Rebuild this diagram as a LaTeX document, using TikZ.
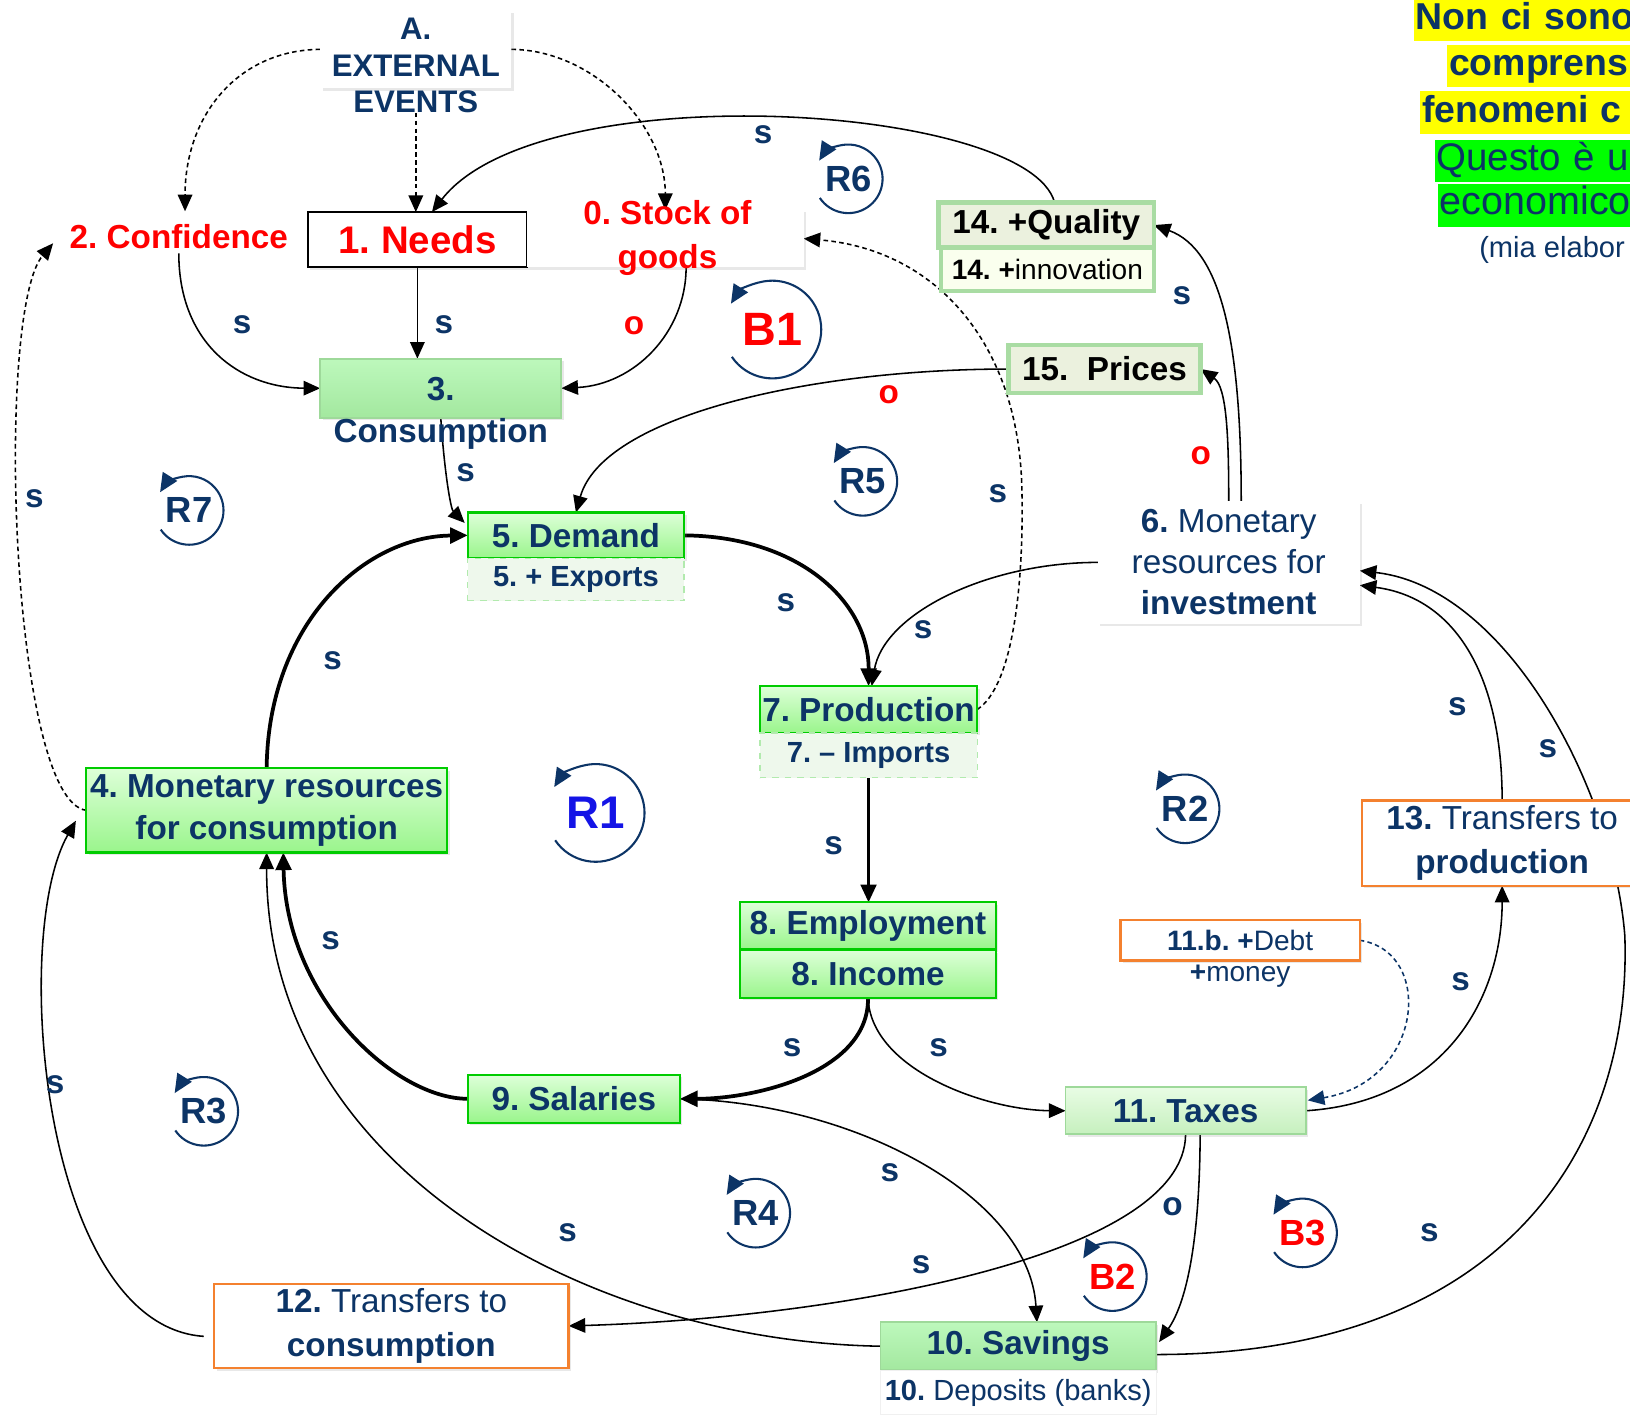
\documentclass[tikz,border=0pt]{standalone}
\usepackage{fontspec}
\setmainfont{Liberation Sans}
\usetikzlibrary{arrows.meta,shadows}
\pgfdeclarelayer{wires}
\pgfsetlayers{wires,main}
\definecolor{navy}{RGB}{12,52,102}
\definecolor{cldred}{RGB}{255,0,0}
\definecolor{loopblue}{RGB}{20,20,230}
\definecolor{brightgreen}{RGB}{0,204,0}
\definecolor{gtop}{HTML}{DDFFD8}
\definecolor{gbot}{HTML}{9AF58C}
\definecolor{ptop}{HTML}{BDF8BC}
\definecolor{pbot}{HTML}{A3E89F}
\definecolor{paleedge}{HTML}{9ED99A}
\definecolor{ttop}{HTML}{E8FCE4}
\definecolor{tbot}{HTML}{C6F0BE}
\definecolor{subfill}{HTML}{EEF8EC}
\definecolor{subedge}{HTML}{B2EAAE}
\definecolor{hlyellow}{RGB}{255,255,0}
\definecolor{hlgreen}{RGB}{0,255,0}
\definecolor{orangeline}{RGB}{244,129,47}
\definecolor{qualfill}{HTML}{EBF1DE}
\definecolor{qualedge}{HTML}{A9DCA3}
\definecolor{innofill}{HTML}{FAFFEE}
\newcommand{\fsz}[2]{\fontsize{#1}{#2}\selectfont}

\begin{document}
\frenchspacing
\begin{tikzpicture}[x=0.5pt,y=-0.5pt,
  every node/.style={inner sep=0pt, outer sep=0pt},
  boxshadow/.style={drop shadow={opacity=0.18, shadow xshift=1.2pt, shadow yshift=-1.2pt}},
  greenbox/.style={draw=brightgreen, line width=1.1pt, top color=gtop, bottom color=gbot, text=navy, font=\bfseries\fsz{16}{20.5}, boxshadow},
  palebox/.style={draw=paleedge, line width=0.9pt, top color=ptop, bottom color=pbot, text=navy, font=\bfseries\fsz{16}{20}, boxshadow},
  taxbox/.style={draw=paleedge, line width=0.9pt, top color=ttop, bottom color=tbot, text=navy, font=\bfseries\fsz{16}{20}, boxshadow},
  subbox/.style={draw=subedge, line width=0.6pt, dashed, fill=subfill, text=navy, font=\bfseries\fsz{14}{17}},
  whitebox/.style={fill=white, boxshadow},
  orangebox/.style={draw=orangeline, line width=1.1pt, fill=white, text=navy, font=\fsz{16}{21}, boxshadow},
  qualbox/.style={draw=qualedge, line width=2.2pt, fill=qualfill, text=black, font=\bfseries\fsz{16}{20}},
  redtext/.style={text=cldred, font=\bfseries\fsz{16}{21}, inner sep=2pt},
  navytext/.style={text=navy, font=\bfseries\fsz{16}{20.5}, align=center},
  slab/.style={text=navy, font=\bfseries\fsz{16}{16}},
  olab/.style={text=cldred, font=\bfseries\fsz{16}{16}},
  looplbl/.style={text=navy, font=\bfseries\fsz{17.5}{18}},
  loopc/.style={draw=navy, line width=1pt, -{Triangle[length=9pt,width=8pt]}},
  link/.style={draw=black, line width=0.75pt, -{Triangle[length=8pt,width=7pt]}},
  heavy/.style={draw=black, line width=1.8pt, -{Triangle[length=8.5pt,width=7.5pt]}},
  dlink/.style={link, dash pattern=on 2.2pt off 1.6pt},
  hl/.style={anchor=west, inner xsep=1pt, inner ysep=0pt, minimum height=20.5pt,
             text height=14pt, text depth=5pt, align=left, text=navy},
]
\useasboundingbox (0,0) rectangle (1568,1361);
\begin{scope}
\clip (0,0) rectangle (1568,1361);

% ---------- boxes ----------
\node[whitebox, minimum width=92pt, minimum height=37.5pt] (extbox) at (400,47.5) {};
\node[navytext, font=\bfseries\fsz{15}{17.5}] (ext) at (400,63) {A.\\EXTERNAL\\EVENTS};
\node[redtext] (confidence) at (172,228) {2. Confidence};
\node[draw=black, line width=1.1pt, fill=white, boxshadow, minimum width=105.5pt, minimum height=26.5pt,
      text=cldred, font=\bfseries\fsz{18.5}{20}] (needs) at (401.5,230.5) {1. Needs};
\node[whitebox, minimum width=133pt, minimum height=27.5pt] (stock) at (640,229.5) {};
\node[redtext, align=center] (stocktext) at (642,229) {0. Stock of\\goods};
\node[palebox, minimum width=116pt, minimum height=28.5pt] (consbox) at (424,373.5) {};
\node[navytext] (constext) at (424,397.5) {3.\\Consumption};

\node[greenbox, minimum width=104pt, minimum height=22pt] (demand) at (554,515) {5. Demand};
\node[subbox, minimum width=104pt, minimum height=20.5pt] (exports) at (554,557.5) {5. + Exports};
\node[greenbox, minimum width=104.5pt, minimum height=22.5pt] (production) at (835.5,682.5) {7. Production};
\node[subbox, minimum width=104.5pt, minimum height=21.5pt] (imports) at (835.5,726.5) {7. – Imports};
\node[greenbox, minimum width=123pt, minimum height=22.5pt] (employment) at (835,890.5) {8. Employment};
\node[greenbox, minimum width=123pt, minimum height=23pt] (income) at (835,937) {8. Income};
\node[greenbox, minimum width=102pt, minimum height=23pt] (salaries) at (552,1057) {9. Salaries};
\node[palebox, minimum width=132.5pt, minimum height=23pt] (savings) at (979.5,1295) {10. Savings};
\node[draw=gray!12, fill=white, minimum width=132.5pt, minimum height=21.5pt, text=navy, font=\fsz{14}{17}]
      (deposits) at (979.5,1339.5) {\textbf{10.} Deposits (banks)};
\node[taxbox, minimum width=115.5pt, minimum height=22.5pt] (taxes) at (1140.5,1068.5) {11. Taxes};
\node[orangebox, minimum width=170.5pt, minimum height=40.5pt, align=center] (trcons) at (376.5,1275.5)
      {\textbf{12.} Transfers to\\\textbf{consumption}};
\node[orangebox, minimum width=135pt, minimum height=41pt, align=center] (trprod) at (1445,811)
      {\textbf{13.} Transfers to\\\textbf{production}};
\node[orangebox, minimum width=115pt, minimum height=19.5pt, font=\fsz{13.5}{16}] (debt) at (1193,904.5) {\textbf{11.b. +}Debt};
\node[text=navy, font=\fsz{13.5}{16}] (money) at (1193,939) {\textbf{+}money};
\node[qualbox, minimum width=103.5pt, minimum height=21.5pt] (quality) at (1006.5,216.5) {14. +Quality};
\node[qualbox, fill=innofill, minimum width=102.5pt, minimum height=21pt, font=\fsz{13.5}{16}]
      (innovation) at (1007.5,259) {\textbf{14. +}innovation};
\node[qualbox, minimum width=92.5pt, minimum height=23pt] (prices) at (1062.5,355) {15.\ \ Prices};
\node[whitebox, minimum width=126pt, minimum height=59pt, text=navy, font=\fsz{16}{19.75}, align=center]
      (invest) at (1182,541) {\textbf{6.} Monetary\\resources for\\\textbf{investment}};
\node[greenbox, minimum width=173.5pt, minimum height=40.5pt, align=center] (monc) at (256.5,779.5)
      {4. Monetary resources\\for consumption};

% ---------- side note ----------
\node[hl, fill=hlyellow, text width=113pt, font=\bfseries\fsz{18}{20}] (note1) at (1360,19) {Non ci sono};
\node[hl, fill=hlyellow, text width=97pt, font=\bfseries\fsz{18}{20}] (note2) at (1392,63.5) {comprens};
\node[hl, fill=hlyellow, text width=110pt, font=\bfseries\fsz{18}{20}] (note3) at (1366,108.5) {fenomeni c};
\node[hl, fill=hlgreen, text width=103pt, font=\fsz{18.5}{20}] (note4) at (1380,155) {Questo è u};
\node[hl, fill=hlgreen, text width=101.5pt, font=\fsz{19}{20}] (note5) at (1383,197.5) {economico};
\node[anchor=west, text=navy, font=\fsz{14}{16}] (note6) at (1423,240) {(mia elabor};

% ---------- loop markers ----------
\node[looplbl] (r6) at (816,172) {R6};
\draw[loopc] (r6.center) ++(146:33) arc[start angle=146, end angle=-148, radius=33];
\node[looplbl, text=cldred, font=\bfseries\fsz{22.5}{23}] (b1) at (743,317) {B1};
\draw[loopc] (b1.center) ++(146:47) arc[start angle=146, end angle=-148, radius=47];
\node[looplbl] (r5) at (830,463) {R5};
\draw[loopc] (r5.center) ++(146:33) arc[start angle=146, end angle=-148, radius=33];
\node[looplbl] (r7) at (182,491) {R7};
\draw[loopc] (r7.center) ++(146:33) arc[start angle=146, end angle=-148, radius=33];
\node[looplbl, text=loopblue, font=\bfseries\fsz{22}{23}] (r1) at (573,782) {R1};
\draw[loopc] (r1.center) ++(146:47) arc[start angle=146, end angle=-148, radius=47];
\node[looplbl] (r2) at (1140,778) {R2};
\draw[loopc] (r2.center) ++(146:33) arc[start angle=146, end angle=-148, radius=33];
\node[looplbl] (r3) at (196,1069) {R3};
\draw[loopc] (r3.center) ++(146:33) arc[start angle=146, end angle=-148, radius=33];
\node[looplbl] (r4) at (727,1167) {R4};
\draw[loopc] (r4.center) ++(146:33) arc[start angle=146, end angle=-148, radius=33];
\node[looplbl, text=cldred] (b2) at (1070,1228) {B2};
\draw[loopc] (b2.center) ++(146:33) arc[start angle=146, end angle=-148, radius=33];
\node[looplbl, text=cldred] (b3) at (1253,1186) {B3};
\draw[loopc] (b3.center) ++(146:33) arc[start angle=146, end angle=-148, radius=33];

% ---------- polarity signs ----------
\node[slab] (sA) at (734,130) {s};
\node[slab] (sB) at (233,312) {s};
\node[slab] (sC) at (427,312) {s};
\node[olab] (oA) at (610,313) {o};
\node[slab] (sD) at (448,455) {s};
\node[olab] (oB) at (855,380) {o};
\node[slab] (sE) at (756,580) {s};
\node[slab] (sF) at (888,606) {s};
\node[slab] (sG) at (960,475) {s};
\node[slab] (sH) at (1137,284) {s};
\node[olab] (oC) at (1155,438) {o};
\node[slab] (sI) at (802,814) {s};
\node[slab] (sJ) at (762,1008) {s};
\node[slab] (sK) at (903,1008) {s};
\node[slab] (sL) at (318,905) {s};
\node[slab] (sM) at (320,636) {s};
\node[slab] (sN) at (546,1186) {s};
\node[slab] (sO) at (856,1128) {s};
\node[slab] (sP) at (886,1217) {s};
\node[slab] (oD) at (1128,1161) {o};
\node[slab] (sQ) at (1405,944) {s};
\node[slab] (sR) at (1402,680) {s};
\node[slab] (sS) at (1489,720) {s};
\node[slab] (sT) at (1375,1186) {s};
\node[slab] (sU) at (33,480) {s};
\node[slab] (sV) at (53,1043) {s};
\end{scope}

% ---------- causal links ----------
\begin{pgfonlayer}{wires}
\draw[dlink] (extbox.west) .. controls (230,48) and (178,110) .. ([shift={(6,-9)}]confidence.north);
\draw[dlink] (extbox.east) .. controls (570,48) and (640,120) .. (stock.north);
\draw[dlink] (ext.south) -- (ext.south |- needs.north);
\draw[link] ([shift={(8,0)}]quality.north) .. controls (990,100) and (520,70) .. ([shift={(14,0)}]needs.north);
\draw[link] (confidence.south) .. controls (172,330) and (230,373) .. (consbox.west);
\draw[link] (needs.south) -- (needs.south |- consbox.north);
\draw[link] ([shift={(20,0)}]stock.south) .. controls (660,320) and (610,370) .. (consbox.east);
\draw[link] (consbox.south) .. controls (428,460) and (434,490) .. ([shift={(-3,10)}]demand.north west);
\draw[link] (prices.west) .. controls (780,355) and (580,400) .. (demand.north);
\draw[heavy] (demand.east) .. controls (770,516) and (836,580) .. (production.north);
\draw[link] (invest.west) .. controls (950,541) and (850,590) .. ([shift={(3,0)}]production.north);
\draw[dlink] (production.east) .. controls (975,660) and (985,560) .. (983,470)
             .. controls (980,330) and (900,240) .. (stock.east);
\draw[heavy, line width=1.4pt] (imports.south) -- (imports.south |- employment.north);
\draw[heavy] (income.south) .. controls (836,1030) and (730,1057) .. (salaries.east);
\draw[link] (income.south) .. controls (838,1030) and (950,1068) .. (taxes.west);
\draw[heavy] (salaries.west) .. controls (380,1057) and (275,960) .. ([shift={(16,0)}]monc.south);
\draw[heavy] (monc.north) .. controls (258,600) and (350,516) .. (demand.west);
\draw[link] (savings.west) .. controls (560,1290) and (256,1120) .. (monc.south);
\draw[link] (salaries.east) .. controls (820,1060) and (990,1150) .. ([shift={(18,0)}]savings.north);
\draw[link] (taxes.south) .. controls (1140,1210) and (800,1268) .. (trcons.east);
\draw[link] ([shift={(14,0)}]taxes.south) .. controls (1154,1200) and (1140,1255) .. ([shift={(3,-4)}]savings.east);
\draw[link] (taxes.east) .. controls (1390,1060) and (1445,960) .. (trprod.south);
\draw[dlink, draw=navy] (debt.east) .. controls (1380,915) and (1370,1040) .. ([shift={(2,-10)}]taxes.east);
\draw[link] (trprod.north) .. controls (1445,650) and (1400,575) .. ([shift={(0,22)}]invest.east);
\draw[link] ([shift={(0,8)}]savings.east) .. controls (1450,1303) and (1570,1100) .. (1563,900)
            .. controls (1552,760) and (1450,565) .. ([shift={(0,8)}]invest.east);
\draw[link] ([shift={(12,0)}]invest.north) .. controls (1194,330) and (1175,240) .. (quality.east);
\draw[link] (invest.north) .. controls (1182,420) and (1180,372) .. (prices.east);
\draw[dlink] (monc.west) .. controls (10,770) and (-5,300) .. ([shift={(-12,6)}]confidence.west);
\draw[link] ([shift={(-10,10)}]trcons.west) .. controls (40,1275) and (10,900) .. ([shift={(-10,10)}]monc.west);
\end{pgfonlayer}
\end{tikzpicture}
\end{document}
